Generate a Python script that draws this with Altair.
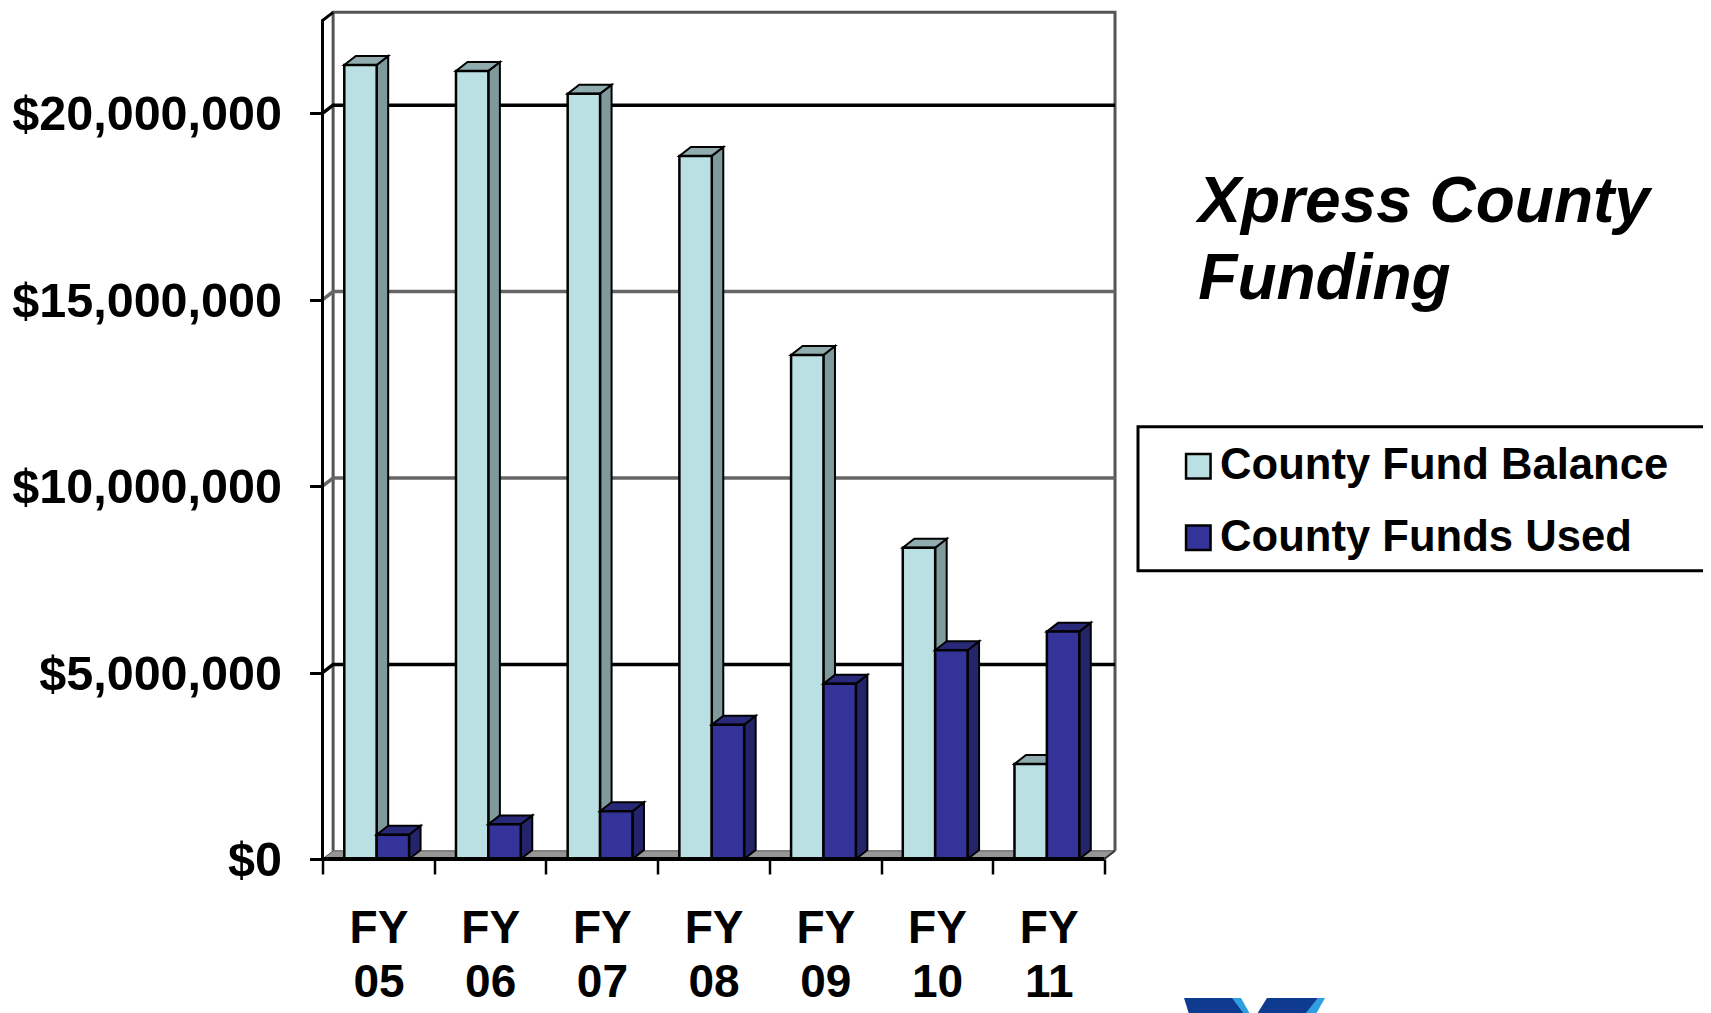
import altair as alt
import pandas as pd

fiscal_years = ["05", "06", "07", "08", "09", "10", "11"]
fund_balance = [21.3, 21.14, 20.53, 18.86, 13.52, 8.35, 2.55]
funds_used = [0.65, 0.93, 1.28, 3.6, 4.7, 5.6, 6.1]
gridlines_dark = [5, 20]
gridlines_gray = [10, 15]
y_ticks = [0, 5, 10, 15, 20]
series_names = ["County Fund Balance", "County Funds Used"]
front_colors = ["#BBE0E3", "#333399"]
side_colors = ["#7F9A9B", "#24246B"]
top_colors = ["#90ACAE", "#29297A"]

FONT = "Liberation Sans"
PX_X = 111.7
PX_Y = 37.28
W = 800
H = 849
LEFT = 322.5
DX, DY = 0.103, 0.24
WALL_X, WALL_Y = 0.095, 0.22
TOP = 22.49
x_scale = alt.Scale(domain=[0, W / PX_X], nice=False, zero=False)
y_scale = alt.Scale(domain=[0, H / PX_Y], nice=False)

year_js = "[" + ",".join(f"'{y}'" for y in fiscal_years) + "]"
x_axis = alt.Axis(
    title=None, values=list(range(8)), domain=False, grid=False, tickSize=15, tickWidth=2.5,
    tickColor="#000000", labelFont=FONT, labelFontWeight="bold", labelFontSize=46,
    labelColor="#000000", labelPadding=32, labelOffset=56, labelBound=False, labelFlush=False,
    labelOverlap=False, labelLineHeight=54.5, labelAlign="center", labelBaseline="top",
    labelExpr=f"datum.value < 7 ? ['FY', {year_js}[datum.value]] : ''")
y_axis = alt.Axis(
    title=None, values=y_ticks, domain=False, grid=False, tickSize=13, tickWidth=3,
    tickColor="#000000", labelFont=FONT, labelFontWeight="bold", labelFontSize=48.5,
    labelColor="#000000", labelPadding=28, labelOverlap=False, labelBound=False, labelLimit=400,
    labelOffset=1.5, labelExpr="'$' + format(datum.value * 1000000, ',.0f')")

X = lambda f="x": alt.X(f"{f}:Q", scale=x_scale, axis=x_axis)
Y = lambda f="y": alt.Y(f"{f}:Q", scale=y_scale, axis=y_axis)

layers = []

floor = pd.DataFrame({"y": [0, WALL_Y], "x": [0, WALL_X], "x2": [7, 7 + WALL_X]})
layers.append(alt.Chart(floor).mark_area(orient="horizontal", color="#969696", stroke="#555555", strokeWidth=1)
              .encode(x=X(), x2="x2:Q", y=Y()))

def segs(rows, **mark):
    df = pd.DataFrame([{"id": i, "x": p[0], "y": p[1], "o": j} for i, r in enumerate(rows) for j, p in enumerate(r)])
    return alt.Chart(df).mark_line(clip=False, **mark).encode(x=X(), y=Y(), detail="id:N", order="o:Q")

layers.append(segs([[(WALL_X, WALL_Y), (WALL_X, TOP + WALL_Y), (7 + WALL_X, TOP + WALL_Y), (7 + WALL_X, WALL_Y)]],
                   color="#555555", strokeWidth=3))
layers.append(segs([[(0, v), (WALL_X, v + WALL_Y), (7 + WALL_X, v + WALL_Y)] for v in gridlines_gray],
                   color="#666666", strokeWidth=3.5))
layers.append(segs([[(0, v), (WALL_X, v + WALL_Y), (7 + WALL_X, v + WALL_Y)] for v in gridlines_dark],
                   color="#000000", strokeWidth=3.5))
layers.append(segs([[(0, 0), (0, TOP), (WALL_X, TOP + WALL_Y)]], color="#000000", strokeWidth=3))
layers.append(segs([[(7, 0), (7 + WALL_X, WALL_Y)]], color="#333333", strokeWidth=2))

bar_start = [0.195, 0.485]
bar_width = 0.29

def series(values, k):
    name = series_names[k]
    x0 = [i + bar_start[k] for i in range(len(values))]
    x1 = [x + bar_width for x in x0]
    side = pd.DataFrame(
        [{"id": i, "x": x1[i], "y": 0, "y2": v} for i, v in enumerate(values)] +
        [{"id": i, "x": x1[i] + DX, "y": DY, "y2": v + DY} for i, v in enumerate(values)])
    top = pd.DataFrame(
        [{"id": i, "y": v, "x": x0[i], "x2": x1[i]} for i, v in enumerate(values)] +
        [{"id": i, "y": v + DY, "x": x0[i] + DX, "x2": x1[i] + DX} for i, v in enumerate(values)])
    front = pd.DataFrame({"x": x0, "x2": x1, "y": values, "series": name})
    return [
        alt.Chart(side).mark_area(color=side_colors[k], stroke="#000000", strokeWidth=2, orient="vertical")
           .encode(x=X(), y=Y(), y2="y2:Q", detail="id:N"),
        alt.Chart(top).mark_area(color=top_colors[k], stroke="#000000", strokeWidth=2, orient="horizontal")
           .encode(y=Y(), x=X(), x2="x2:Q", detail="id:N"),
        alt.Chart(front).mark_rect(stroke="#000000", strokeWidth=2.5).encode(
            x=X(), x2="x2:Q", y=Y(), y2=alt.datum(0),
            color=alt.Color("series:N",
                            scale=alt.Scale(domain=series_names, range=front_colors),
                            legend=alt.Legend(
                                title=None, orient="none", legendX=854, legendY=434.5,
                                symbolType="square", symbolSize=600, symbolStrokeColor="#000000",
                                symbolStrokeWidth=2.5, labelFont=FONT, labelFontWeight="bold",
                                labelFontSize=43.6, labelColor="#000000", labelLimit=600, labelOffset=0,
                                rowPadding=26.5, symbolOpacity=1))),
    ]

layers += series(fund_balance, 0)
layers += series(funds_used, 1)

layers.append(segs([[(0, 0), (7, 0)]], color="#000000", strokeWidth=4))

# legend frame
box = alt.Chart(pd.DataFrame({"a": [0]})).mark_rect(fill=None, stroke="#000000", strokeWidth=3, clip=False).encode(
    x=alt.value(815.5), x2=alt.value(1400), y=alt.value(416.7), y2=alt.value(560.7))
layers.append(box)

# cropped logo at the bottom edge: page pixels mapped into the plot's scales
def logo_shape(top_left, top_right, bottom_left, bottom_right, color):
    to_x = lambda p: (p - LEFT) / PX_X
    to_y = lambda p: (859 - p) / PX_Y
    df = pd.DataFrame({"y": [to_y(998), to_y(1014)],
                       "x": [to_x(top_left), to_x(bottom_left)],
                       "x2": [to_x(top_right), to_x(bottom_right)]})
    return alt.Chart(df).mark_area(orient="horizontal", color=color, clip=False).encode(
        y=Y(), x=X(), x2="x2:Q")

layers.append(logo_shape(1231, 1241, 1242, 1250, "#2E9FE0"))
layers.append(logo_shape(1318, 1325, 1304, 1316, "#2E9FE0"))
layers.append(logo_shape(1184, 1232, 1189, 1244, "#0E3A8F"))
layers.append(logo_shape(1267, 1318, 1257, 1305, "#0E3A8F"))

chart = alt.layer(*layers).properties(
    width=W, height=H, background="white",
    padding={"left": 314.5, "top": 2, "right": 580.5, "bottom": 154},
    autosize=alt.AutoSizeParams(type="none"),
    title=alt.TitleParams(
        ["Xpress County", "Funding"], anchor="start", frame="group", orient="top", align="left",
        dx=875.8, dy=310, font=FONT, fontStyle="italic", fontWeight="bold", fontSize=64,
        lineHeight=77.5, color="#000000"),
).configure_view(stroke=None, strokeWidth=0)

chart.save("out.html", embed_options={"renderer": "svg", "actions": False})
